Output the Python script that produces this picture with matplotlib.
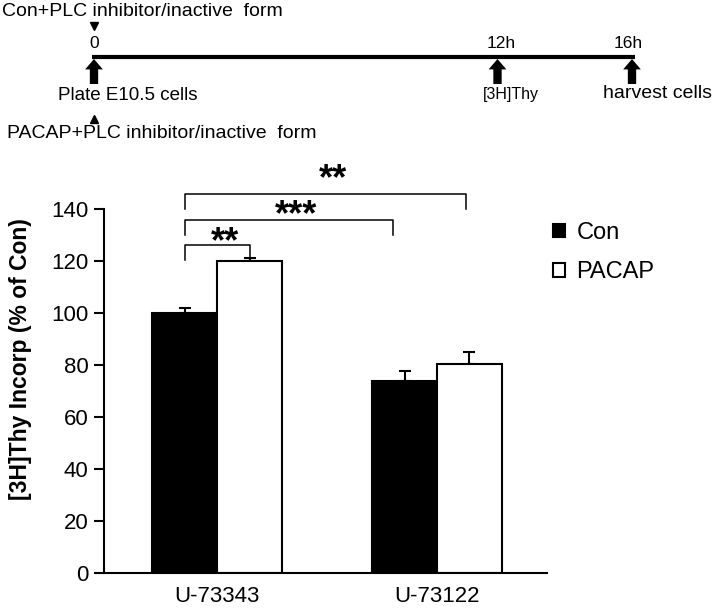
import numpy as np
import matplotlib
matplotlib.use("Agg")
import matplotlib.pyplot as plt
from matplotlib.patches import FancyArrowPatch

plt.rcParams["font.family"] = ["Liberation Sans", "DejaVu Sans"]

# ---- data ----
groups = ["U-73343", "U-73122"]
series = ["Con", "PACAP"]
con_mean = [100.0, 74.0]
con_err = [2.0, 3.7]
pacap_mean = [120.0, 80.5]
pacap_err = [1.0, 4.5]

# significance brackets: (left x, right x), bar height, tick bottom, stars
brackets_x = [(-0.1475, 0.1475), (-0.1475, 0.80), (-0.1475, 1.13)]
brackets_y = [126.0, 135.8, 145.8]
brackets_tick = [120.5, 130.0, 140.0]
brackets_lbl = ["**", "***", "**"]
stars_y = [129.6, 140.0, 153.8]

# timeline
tl_times = [0, 12, 16]
tl_top = ["0", "12h", "16h"]
tl_bottom = ["Plate E10.5 cells", "[3H]Thy", "harvest cells"]
txt_con = "Con+PLC inhibitor/inactive  form"
txt_pacap = "PACAP+PLC inhibitor/inactive  form"

fig = plt.figure(figsize=(7.2, 6.08), dpi=100)

# ---- timeline panel (vertical units ~ pixels from top) ----
tl = fig.add_axes([94 / 720, 1 - 140 / 608, (632 - 94) / 720, 140 / 608])
tl.set_xlim(0, 16)
tl.set_ylim(140, 0)
tl.axis("off")
tl.plot([-0.06, 16.09], [57, 57], color="black", lw=3,
        solid_capstyle="butt", clip_on=False)
top_shift = [0, 0.1, -0.12]
for t, top, dx in zip(tl_times, tl_top, top_shift):
    tl.add_patch(FancyArrowPatch((t, 84), (t, 59),
                                 arrowstyle="simple,head_length=0.5,head_width=0.85,tail_width=0.4",
                                 mutation_scale=15, color="black", lw=0,
                                 shrinkA=0, shrinkB=0, clip_on=False))
    tl.text(t + dx, 44, top, ha="center", va="center", fontsize=12.5)
tl.text(-1.07, 96, tl_bottom[0], ha="left", va="center", fontsize=13.5)
tl.text(12.4, 94, tl_bottom[1], ha="center", va="center", fontsize=11.5)
tl.text(15.14, 94, tl_bottom[2], ha="left", va="center", fontsize=14,
        clip_on=False)
tl.plot([0], [26], marker="v", color="black", markersize=6, clip_on=False)
tl.plot([0], [119], marker="^", color="black", markersize=6, clip_on=False)
tl.text(-2.74, 11, txt_con, ha="left", va="center", fontsize=14, clip_on=False)
tl.text(-2.59, 134, txt_pacap, ha="left", va="center", fontsize=14,
        clip_on=False)

# ---- bar chart ----
ax = fig.add_axes([104 / 720, 1 - 573 / 608, 443 / 720, 364 / 608])
x = np.arange(len(groups))
w = 0.295
ax.bar(x - w / 2, con_mean, w, color="black", edgecolor="black", lw=1.5,
       label=series[0], zorder=2)
ax.bar(x + w / 2, pacap_mean, w, color="white", edgecolor="black", lw=1.5,
       label=series[1], zorder=2)
ax.errorbar(x - w / 2, con_mean, yerr=[np.zeros(2), con_err], fmt="none",
            ecolor="black", elinewidth=1.5, capsize=4, capthick=1.5, zorder=1)
ax.errorbar(x + w / 2, pacap_mean, yerr=[np.zeros(2), pacap_err], fmt="none",
            ecolor="black", elinewidth=1.5, capsize=4, capthick=1.5, zorder=1)

for (x0, x1), yb, yt, lbl, ys in zip(brackets_x, brackets_y, brackets_tick,
                                     brackets_lbl, stars_y):
    ax.plot([x0, x0, x1, x1], [yt, yb, yb, yt], color="black", lw=1.1,
            clip_on=False)
    ax.text((x0 + x1) / 2 + 0.035, ys - 6.2, lbl, ha="center", va="baseline",
            fontsize=26, fontweight="bold", clip_on=False)

ax.set_xlim(-0.514, 1.5)
ax.set_ylim(0, 140)
ax.set_yticks(np.arange(0, 141, 20))
ax.set_xticks(x)
ax.set_xticklabels(groups, fontsize=16)
ax.tick_params(axis="x", length=0, pad=9)
ax.tick_params(axis="y", direction="out", length=7, width=1.5, labelsize=16,
               pad=4)
for s in ["top", "right"]:
    ax.spines[s].set_visible(False)
for s in ["left", "bottom"]:
    ax.spines[s].set_linewidth(1.5)
ax.set_ylabel("[3H]Thy Incorp (% of Con)", fontsize=16.5, fontweight="bold")
ax.yaxis.set_label_coords(-0.1625, 0.588)

ax.legend(loc="upper left", bbox_to_anchor=(1.0135, 0.965), frameon=False,
          fontsize=17, handlelength=0.5, handleheight=0.5, handletextpad=0.5,
          labelspacing=0.75, borderaxespad=0, borderpad=0)

fig.savefig("out.png", dpi=100)
